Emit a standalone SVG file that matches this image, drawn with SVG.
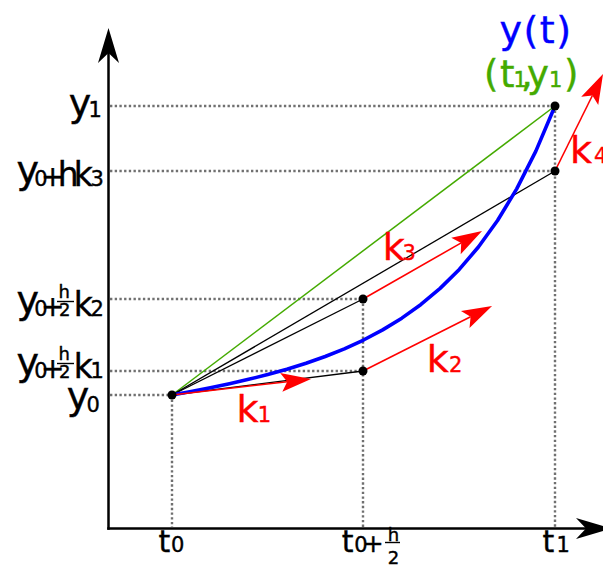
<svg xmlns="http://www.w3.org/2000/svg" width="603" height="567" viewBox="0 0 603 567">
<style>
.axis{stroke:#000;stroke-width:2.5;fill:none}
.guide{stroke:#707070;stroke-width:2.4;stroke-dasharray:2.35 2.35;fill:none}
.blk{stroke:#000;stroke-width:1.3;fill:none}
.grn{stroke:#44aa00;stroke-width:1.5;fill:none}
.red{stroke:#ff0000;stroke-width:1.6;fill:none;marker-end:url(#ar)}
.curve{stroke:#0000ff;stroke-width:3.6;fill:none;stroke-linejoin:round;stroke-linecap:round}
.pt{fill:#000}
.bar{stroke:#000;stroke-width:1.4}
text{font-family:"DejaVu Sans","Liberation Sans",sans-serif;fill:#000;stroke:#000;stroke-width:0.4}
.bg{font-size:38px}
.md{font-size:33px}
.pl{font-size:28px}
.pb{font-size:25px}
.sb{font-size:21px}
.fr{font-size:18px}
.tt{font-size:30px}
.red-t{fill:#ff0000;stroke:#ff0000}
.kk{font-size:38px}
.ks{font-size:21px}
.blu{fill:#0000ff;stroke:#0000ff;font-size:38px;letter-spacing:1.5px}
.gt{fill:#44aa00;stroke:#44aa00}
.gn{font-size:37px}
.gs{font-size:21px}
</style>
<defs>
<marker id="ar" markerUnits="userSpaceOnUse" orient="auto" refX="-24" refY="0" overflow="visible" markerWidth="40" markerHeight="30">
<path d="M0,0 L-30,-9.5 L-24,0 L-30,9.5 Z" fill="#ff0000"/>
</marker>
<marker id="ax" markerUnits="userSpaceOnUse" orient="auto" refX="-25" refY="0" overflow="visible" markerWidth="40" markerHeight="30">
<path d="M0,0 L-35,-10.5 L-25,0 L-35,10.5 Z" fill="#000"/>
</marker>
</defs>

<g id="guides">
<line class="guide" x1="110" y1="106" x2="555" y2="106"/>
<line class="guide" x1="110" y1="171" x2="555" y2="171"/>
<line class="guide" x1="110" y1="299" x2="363" y2="299"/>
<line class="guide" x1="110" y1="371" x2="363" y2="371"/>
<line class="guide" x1="110" y1="395" x2="172" y2="395"/>
<line class="guide" x1="172" y1="395" x2="172" y2="527"/>
<line class="guide" x1="363" y1="299" x2="363" y2="527"/>
<line class="guide" x1="555" y1="106" x2="555" y2="527"/>
</g>

<g id="axes">
<line class="axis" x1="108.5" y1="529.75" x2="108.5" y2="53" marker-end="url(#ax)"/>
<line class="axis" x1="107.25" y1="528.5" x2="586" y2="528.5" marker-end="url(#ax)"/>
</g>

<g id="connectors">
<line class="grn" x1="172" y1="395" x2="555" y2="106"/>
<line class="blk" x1="172" y1="395" x2="555" y2="171"/>
<line class="blk" x1="172" y1="395" x2="363" y2="299"/>
<line class="blk" x1="172" y1="395" x2="363" y2="371"/>
<polyline class="curve" points="172,395 191.15,391.51 210.3,387.77 229.45,383.74 248.6,379.35 267.75,374.52 286.9,369.18 306.05,363.2 325.2,356.46 344.35,348.8 363.5,340.02 382.65,329.9 401.8,318.16 420.95,304.46 440.1,288.37 459.25,269.44 478.4,247.04 497.55,220.46 516.7,188.84 535.85,151.1 555,106"/>
<line class="red" x1="172" y1="395" x2="287.2" y2="381.7"/>
<line class="red" x1="363" y1="371" x2="470.6" y2="316.8"/>
<line class="red" x1="363" y1="299" x2="461.2" y2="242.9"/>
<line class="red" x1="555" y1="171" x2="592.4" y2="95.5"/>
</g>

<g id="p0"><circle class="pt" cx="172" cy="395" r="4.5"/></g>
<g id="p1"><circle class="pt" cx="363" cy="371" r="4.5"/></g>
<g id="p2"><circle class="pt" cx="363" cy="299" r="4.5"/></g>
<g id="p3"><circle class="pt" cx="555" cy="171" r="4.5"/></g>
<g id="p4"><circle class="pt" cx="555" cy="106" r="4.5"/></g>

<g id="label-y1"><text><tspan class="bg" x="68.8" y="116">y</tspan><tspan class="sb" x="88.5" y="117">1</tspan></text></g>
<g id="label-yhk3"><text><tspan class="bg" x="16.5" y="183">y</tspan><tspan class="sb" x="34.3" y="186">0</tspan><tspan class="pl" x="41" y="186">+</tspan><tspan class="md" x="57.7" y="186">h</tspan><tspan class="md" x="73.7" y="186">k</tspan><tspan class="sb" x="90.5" y="186">3</tspan></text></g>
<g id="label-yhk2"><text><tspan class="bg" x="16.5" y="313">y</tspan><tspan class="sb" x="34.3" y="316">0</tspan><tspan class="pl" x="41" y="316">+</tspan><tspan class="fr" x="58.6" y="298">h</tspan><tspan class="fr" x="58.9" y="316">2</tspan><tspan class="md" x="73.7" y="316">k</tspan><tspan class="sb" x="90.5" y="316">2</tspan></text><line class="bar" x1="57" y1="301.5" x2="74" y2="301.5"/></g>
<g id="label-yhk1"><text><tspan class="bg" x="16.5" y="375">y</tspan><tspan class="sb" x="34.3" y="378">0</tspan><tspan class="pl" x="41" y="378">+</tspan><tspan class="fr" x="58.6" y="360">h</tspan><tspan class="fr" x="58.9" y="378">2</tspan><tspan class="md" x="73.7" y="378">k</tspan><tspan class="sb" x="90.5" y="378">1</tspan></text><line class="bar" x1="57" y1="363.5" x2="74" y2="363.5"/></g>
<g id="label-y0"><text><tspan class="bg" x="66.8" y="409">y</tspan><tspan class="sb" x="86.5" y="412">0</tspan></text></g>

<g id="label-t0"><text><tspan class="tt" x="158.5" y="552">t</tspan><tspan class="sb" x="171" y="552">0</tspan></text></g>
<g id="label-th"><text><tspan class="tt" x="341.8" y="552">t</tspan><tspan class="sb" x="354.3" y="552">0</tspan><tspan class="pb" x="362.8" y="552">+</tspan><tspan class="fr" x="387.7" y="541">h</tspan><tspan class="fr" x="387.7" y="563.5">2</tspan></text><line class="bar" x1="385" y1="542.5" x2="400" y2="542.5"/></g>
<g id="label-t1"><text><tspan class="tt" x="542.5" y="552">t</tspan><tspan class="sb" x="556.5" y="552">1</tspan></text></g>

<g id="label-yt"><text class="blu" x="499.5" y="43">y(t)</text></g>
<g id="label-t1y1"><text class="gt"><tspan class="gn" x="484" y="87">(</tspan><tspan class="gn" x="500" y="87">t</tspan><tspan class="gs" x="513.5" y="87">1</tspan><tspan class="gn" x="521" y="87">,</tspan><tspan class="gn" x="527" y="87">y</tspan><tspan class="gs" x="549" y="87">1</tspan><tspan class="gn" x="564" y="87">)</tspan></text></g>

<g id="label-k1"><text class="red-t"><tspan class="kk" x="236.5" y="422">k</tspan><tspan class="ks" x="257.8" y="422">1</tspan></text></g>
<g id="label-k2"><text class="red-t"><tspan class="kk" x="426.7" y="372">k</tspan><tspan class="ks" x="449" y="372">2</tspan></text></g>
<g id="label-k3"><text class="red-t"><tspan class="kk" x="382.7" y="260">k</tspan><tspan class="ks" x="402.5" y="260">3</tspan></text></g>
<g id="label-k4"><text class="red-t"><tspan class="kk" x="570" y="163">k</tspan><tspan class="ks" x="594" y="163">4</tspan></text></g>
</svg>
